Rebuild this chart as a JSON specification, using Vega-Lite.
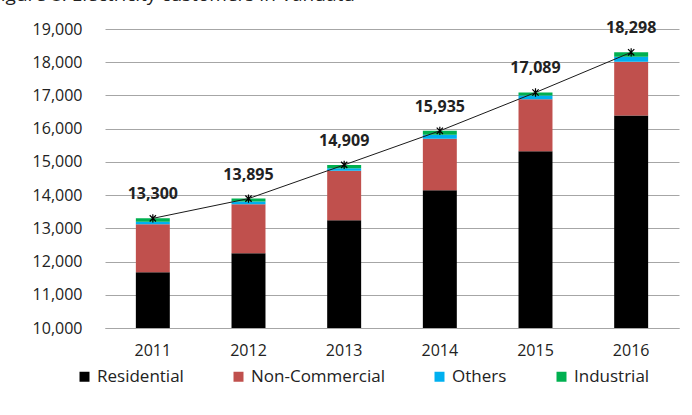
{
  "$schema": "https://vega.github.io/schema/vega-lite/v6.json",
  "autosize": "none",
  "width": 574,
  "height": 299,
  "padding": {"left": 105, "top": 29, "right": 13, "bottom": 87},
  "background": "white",
  "config": {
    "font": "Open Sans",
    "view": {"stroke": null},
    "axis": {"labelFont": "Open Sans", "labelFontSize": 16, "labelColor": "#222222"}
  },
  "title": {
    "text": "Figure 8: Electricity customers in Vanuatu",
    "anchor": "start",
    "frame": "group",
    "dx": -114,
    "dy": 11,
    "offset": 11,
    "baseline": "alphabetic",
    "fontSize": 19,
    "fontWeight": "normal",
    "font": "Open Sans",
    "color": "#222222"
  },
  "datasets": {
    "parts": [
      {"year": "2011", "category": "Residential", "k": 1, "value": 11680},
      {"year": "2011", "category": "Non-Commercial", "k": 2, "value": 1440},
      {"year": "2011", "category": "Others", "k": 3, "value": 80},
      {"year": "2011", "category": "Industrial", "k": 4, "value": 100},
      {"year": "2012", "category": "Residential", "k": 1, "value": 12250},
      {"year": "2012", "category": "Non-Commercial", "k": 2, "value": 1475},
      {"year": "2012", "category": "Others", "k": 3, "value": 80},
      {"year": "2012", "category": "Industrial", "k": 4, "value": 90},
      {"year": "2013", "category": "Residential", "k": 1, "value": 13240},
      {"year": "2013", "category": "Non-Commercial", "k": 2, "value": 1490},
      {"year": "2013", "category": "Others", "k": 3, "value": 80},
      {"year": "2013", "category": "Industrial", "k": 4, "value": 99},
      {"year": "2014", "category": "Residential", "k": 1, "value": 14145},
      {"year": "2014", "category": "Non-Commercial", "k": 2, "value": 1555},
      {"year": "2014", "category": "Others", "k": 3, "value": 120},
      {"year": "2014", "category": "Industrial", "k": 4, "value": 115},
      {"year": "2015", "category": "Residential", "k": 1, "value": 15320},
      {"year": "2015", "category": "Non-Commercial", "k": 2, "value": 1565},
      {"year": "2015", "category": "Others", "k": 3, "value": 110},
      {"year": "2015", "category": "Industrial", "k": 4, "value": 94},
      {"year": "2016", "category": "Residential", "k": 1, "value": 16400},
      {"year": "2016", "category": "Non-Commercial", "k": 2, "value": 1615},
      {"year": "2016", "category": "Others", "k": 3, "value": 150},
      {"year": "2016", "category": "Industrial", "k": 4, "value": 133}
    ],
    "totals": [
      {"year": "2011", "total": 13300},
      {"year": "2012", "total": 13895},
      {"year": "2013", "total": 14909},
      {"year": "2014", "total": 15935},
      {"year": "2015", "total": 17089},
      {"year": "2016", "total": 18298}
    ]
  },
  "encoding": {
    "x": {
      "field": "year",
      "type": "ordinal",
      "scale": {"paddingInner": 0.645, "paddingOuter": 0.3225},
      "axis": {
        "title": null,
        "labelAngle": 0,
        "ticks": false,
        "tickSize": 0,
        "labelPadding": 14,
        "domainColor": "#A6A6A6",
        "domainWidth": 1
      }
    }
  },
  "layer": [
    {
      "data": {"name": "parts"},
      "mark": {"type": "bar", "clip": true},
      "encoding": {
        "y": {
          "field": "value",
          "type": "quantitative",
          "stack": "zero",
          "scale": {"domain": [10000, 19000], "nice": false, "zero": false},
          "axis": {
            "title": null,
            "values": [10000, 11000, 12000, 13000, 14000, 15000, 16000, 17000, 18000, 19000],
            "format": ",.0f",
            "domain": false,
            "ticks": false,
            "tickSize": 0,
            "labelPadding": 23,
            "gridColor": "#A6A6A6",
            "gridWidth": 1
          }
        },
        "color": {
          "field": "category",
          "type": "nominal",
          "scale": {
            "domain": ["Residential", "Non-Commercial", "Others", "Industrial"],
            "range": ["#000000", "#C0504D", "#00B0F0", "#00B050"]
          },
          "legend": {
            "title": null,
            "orient": "none",
            "direction": "horizontal",
            "legendX": -29,
            "legendY": 339,
            "symbolType": "square",
            "symbolSize": 100,
            "symbolStrokeWidth": 0,
            "labelFont": "Open Sans",
            "labelFontSize": 17,
            "labelColor": "#222222",
            "labelOffset": 4,
            "columnPadding": 46
          }
        },
        "order": {"field": "k", "type": "quantitative", "sort": "ascending"}
      }
    },
    {
      "data": {"name": "totals"},
      "mark": {"type": "line", "color": "#1a1a1a", "strokeWidth": 1},
      "encoding": {
        "y": {
          "field": "total",
          "type": "quantitative",
          "axis": {
            "title": null,
            "values": [10000, 11000, 12000, 13000, 14000, 15000, 16000, 17000, 18000, 19000],
            "format": ",.0f",
            "domain": false,
            "ticks": false,
            "tickSize": 0,
            "labelPadding": 23,
            "gridColor": "#A6A6A6",
            "gridWidth": 1
          }
        }
      }
    },
    {
      "data": {"name": "totals"},
      "mark": {
        "type": "point",
        "shape": "M0,-1L0,1M-0.75,-0.75L0.75,0.75M-0.75,0.75L0.75,-0.75",
        "filled": false,
        "stroke": "#000000",
        "strokeWidth": 1.2,
        "size": 70,
        "opacity": 1
      },
      "encoding": {
        "y": {
          "field": "total",
          "type": "quantitative",
          "axis": {
            "title": null,
            "values": [10000, 11000, 12000, 13000, 14000, 15000, 16000, 17000, 18000, 19000],
            "format": ",.0f",
            "domain": false,
            "ticks": false,
            "tickSize": 0,
            "labelPadding": 23,
            "gridColor": "#A6A6A6",
            "gridWidth": 1
          }
        }
      }
    },
    {
      "data": {"name": "totals"},
      "mark": {
        "type": "text",
        "dy": -24,
        "font": "Open Sans",
        "fontSize": 16,
        "fontWeight": "bold",
        "color": "#222222"
      },
      "encoding": {
        "y": {
          "field": "total",
          "type": "quantitative",
          "axis": {
            "title": null,
            "values": [10000, 11000, 12000, 13000, 14000, 15000, 16000, 17000, 18000, 19000],
            "format": ",.0f",
            "domain": false,
            "ticks": false,
            "tickSize": 0,
            "labelPadding": 23,
            "gridColor": "#A6A6A6",
            "gridWidth": 1
          }
        },
        "text": {"field": "total", "type": "quantitative", "format": ","}
      }
    }
  ]
}
